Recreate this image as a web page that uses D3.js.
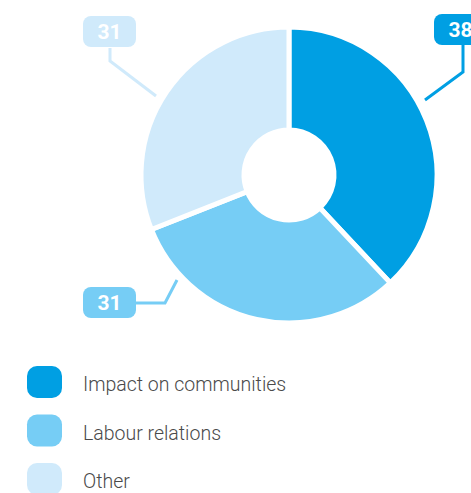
<!DOCTYPE html>
<html>
<head>
<meta charset="utf-8">
<script src="https://cdn.jsdelivr.net/npm/d3@7"></script>
<style>
  body { margin: 0; background: #fff; }
  svg { display: block; }
</style>
</head>
<body>
<div id="chart"></div>
<script>
var categories = ["Impact on communities", "Labour relations", "Other"]
var values = [38, 31, 31]
var colors = ["#009fe3", "#76cdf5", "#d0eafb"]

var width = 471, height = 493
var cx = 289, cy = 175
var outerR = 148, innerR = 45

var svg = d3.select("#chart")
    .append("svg")
    .attr("width", width)
    .attr("height", height)

var pie = d3.pie().sort(null).value(function(d) { return d })
var arc = d3.arc().innerRadius(innerR).outerRadius(outerR)
var arcs = pie(values)

var g = svg.append("g")
    .attr("transform", "translate(" + cx + "," + cy + ")")

g.selectAll("path")
  .data(arcs)
  .enter().append("path")
    .attr("d", arc)
    .attr("fill", function(d, i) { return colors[i] })
    .attr("stroke", "#fff")
    .attr("stroke-width", 5)
    .attr("stroke-linejoin", "round")

// label callouts: box position + leader line points
var callouts = [
  {box: [434, 14], pts: [[463, 45], [463, 72], [425, 100]]},
  {box: [83, 287], pts: [[135, 303], [165, 303], [177, 280]]},
  {box: [83, 16], pts: [[110, 48], [110, 61], [156, 96]]}
]
var boxW = 53, boxH = 31

var labels = svg.append("g")

callouts.forEach(function(c, i) {
  labels.append("polyline")
    .attr("points", c.pts.map(function(p) { return p.join(",") }).join(" "))
    .attr("fill", "none")
    .attr("stroke", colors[i])
    .attr("stroke-width", 3)

  labels.append("rect")
    .attr("x", c.box[0])
    .attr("y", c.box[1])
    .attr("width", boxW)
    .attr("height", boxH)
    .attr("rx", 8)
    .attr("fill", colors[i])

  labels.append("text")
    .attr("x", c.box[0] + boxW / 2)
    .attr("y", c.box[1] + boxH / 2 + 7.5)
    .attr("text-anchor", "middle")
    .attr("font-family", "Roboto")
    .attr("font-weight", "bold")
    .attr("font-size", 21)
    .attr("fill", "#fff")
    .text(values[i])
})

// legend
var legend = svg.append("g")
    .attr("transform", "translate(27,366)")

var item = legend.selectAll("g")
  .data(categories)
  .enter().append("g")
    .attr("transform", function(d, i) { return "translate(0," + (i * 48.5) + ")" })

item.append("rect")
    .attr("width", 35)
    .attr("height", 32)
    .attr("rx", 10)
    .attr("fill", function(d, i) { return colors[i] })

item.append("text")
    .attr("x", 56)
    .attr("y", 25)
    .attr("font-family", "Roboto")
    .attr("font-weight", 300)
    .attr("font-size", 19.5)
    .attr("fill", "#4a4a4a")
    .text(function(d) { return d })
</script>
</body>
</html>
